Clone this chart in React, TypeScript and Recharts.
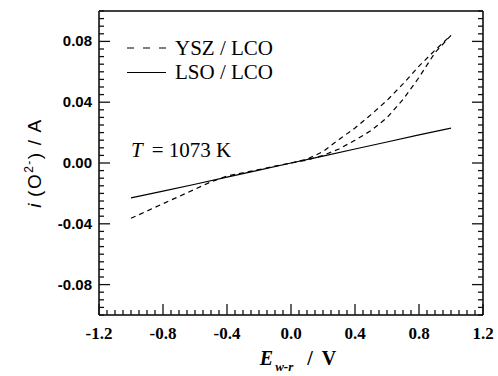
import React from 'react';
import { LineChart, Line, XAxis, YAxis, Legend } from 'recharts';

// YSZ / LCO: sweep -1 V -> +1 V (lower branch), then back to 0 V (upper branch)
const yszV = [-1.0, -0.9, -0.8, -0.7, -0.6, -0.5, -0.4, -0.3, -0.2, -0.1, 0.0, 0.1, 0.2, 0.3, 0.4, 0.5, 0.6, 0.7, 0.8, 0.9, 1.0,
  0.9, 0.8, 0.7, 0.6, 0.5, 0.4, 0.3, 0.2, 0.1, 0.0];
const yszI = [-0.0364, -0.0316, -0.0268, -0.0220, -0.0172, -0.0124, -0.0086, -0.0064, -0.0043, -0.0021, 0.0, 0.0019, 0.0050, 0.0092, 0.0150, 0.0213, 0.0298, 0.0418, 0.0563, 0.0726, 0.0840,
  0.0742, 0.0637, 0.0520, 0.0412, 0.0318, 0.0230, 0.0155, 0.0075, 0.0025, 0.0];

// LSO / LCO
const lsoV = [-1.0, -0.8, -0.6, -0.4, -0.2, 0.0, 0.2, 0.4, 0.6, 0.8, 1.0];
const lsoI = [-0.0230, -0.0185, -0.0140, -0.0093, -0.0047, 0.0, 0.0045, 0.0092, 0.0138, 0.0185, 0.0230];

const xMajor = [-1.2, -0.8, -0.4, 0, 0.4, 0.8, 1.2];
const xLabels = ['-1.2', '-0.8', '-0.4', '0.0', '0.4', '0.8', '1.2'];
const yMajor = [-0.08, -0.04, 0, 0.04, 0.08];
const yLabels = ['-0.08', '-0.04', '0.00', '0.04', '0.08'];

// minor tick positions (0.05 V and 0.005 A steps)
const xTicks = Array.from({ length: 49 }, (_, k) => Math.round((-1.2 + k * 0.05) * 100) / 100);
const yTicks = Array.from({ length: 41 }, (_, k) => Math.round((-0.1 + k * 0.005) * 1000) / 1000);

const ysz = yszV.map((v, k) => ({ v, i: yszI[k] }));
const lso = lsoV.map((v, k) => ({ v, i: lsoI[k] }));

const majorIndex = (list: number[], val: number) => list.findIndex(m => Math.abs(m - val) < 1e-6);

const serif = '"Liberation Serif", "Times New Roman", serif';
const sans = '"Liberation Sans", Arial, sans-serif';
const ink = '#111';

const BottomTick = (props: any) => {
  const { x, y, payload } = props;
  const idx = majorIndex(xMajor, payload.value);
  const len = idx >= 0 ? 11 : 5;
  return (
    <g>
      <line x1={x} y1={y} x2={x} y2={y - len} stroke={ink} strokeWidth={1.3} />
      {idx >= 0 && (
        <text x={x} y={y + 24} textAnchor="middle" fontFamily={serif} fontWeight="bold" fontSize={17} fill="#000">
          {xLabels[idx]}
        </text>
      )}
    </g>
  );
};

const TopTick = (props: any) => {
  const { x, y, payload } = props;
  const len = majorIndex(xMajor, payload.value) >= 0 ? 11 : 5;
  return <line x1={x} y1={y} x2={x} y2={y + len} stroke={ink} strokeWidth={1.3} />;
};

const LeftTick = (props: any) => {
  const { x, y, payload } = props;
  const idx = majorIndex(yMajor, payload.value);
  const len = idx >= 0 ? 11 : 5;
  return (
    <g>
      <line x1={x} y1={y} x2={x + len} y2={y} stroke={ink} strokeWidth={1.3} />
      {idx >= 0 && (
        <text x={x - 7} y={y + 5} textAnchor="end" fontFamily={sans} fontWeight="bold" fontSize={15} fill="#000">
          {yLabels[idx]}
        </text>
      )}
    </g>
  );
};

const RightTick = (props: any) => {
  const { x, y, payload } = props;
  const len = majorIndex(yMajor, payload.value) >= 0 ? 11 : 5;
  return <line x1={x} y1={y} x2={x - len} y2={y} stroke={ink} strokeWidth={1.3} />;
};

const XTitle = (props: any) => {
  const { viewBox } = props;
  const cx = viewBox.x + viewBox.width / 2 + 7;
  return (
    <text x={cx} y={365} textAnchor="middle" fontFamily={serif} fontWeight="bold" fontSize={20} fill="#000">
      <tspan fontStyle="italic">E</tspan>
      <tspan fontStyle="italic" fontSize={13} dx={2} dy={6}>w-r</tspan>
      <tspan dx={14} dy={-6}>/</tspan>
      <tspan dx={9}>V</tspan>
    </text>
  );
};

const YTitle = () => (
  <text x={0} y={0} transform="translate(41,163) rotate(-90)" textAnchor="middle" fontFamily={sans} fontSize={19} letterSpacing={1.5} fill="#000">
    <tspan fontStyle="italic">i</tspan>
    <tspan dx={5}>(O</tspan>
    <tspan fontSize={12} dy={-8}>2-</tspan>
    <tspan dy={8}>)</tspan>
    <tspan dx={6}>/</tspan>
    <tspan dx={6}>A</tspan>
  </text>
);

const LegendBox = () => (
  <svg width={170} height={60}>
    <line x1={7} y1={18} x2={46} y2={18} stroke="#000" strokeWidth={1.2} strokeDasharray="7 9" />
    <text x={55} y={24.5} fontFamily={serif} fontSize={21} fill="#000">YSZ / LCO</text>
    <line x1={7} y1={42.5} x2={46} y2={42.5} stroke="#000" strokeWidth={1.2} />
    <text x={55} y={48.5} fontFamily={serif} fontSize={21} fill="#000">LSO / LCO</text>
  </svg>
);

export default function App() {
  return (
    <div style={{ position: 'absolute', left: 0, top: 0, width: 498, height: 376, background: '#fff' }}>
      <LineChart width={498} height={376} margin={{ top: 10, right: 14, bottom: 0, left: 0 }}>
        <XAxis dataKey="v" type="number" domain={[-1.2, 1.2]} ticks={xTicks} interval={0} height={61} tickSize={0} tickMargin={0} tickLine={false} tick={<BottomTick />} axisLine={{ stroke: '#000', strokeWidth: 1.5 }} allowDataOverflow label={<XTitle />} />
        <XAxis xAxisId="top" orientation="top" type="number" domain={[-1.2, 1.2]} ticks={xTicks} interval={0} height={1} tickSize={0} tickMargin={0} tickLine={false} tick={<TopTick />} axisLine={{ stroke: '#000', strokeWidth: 1.5 }} allowDataOverflow />
        <YAxis type="number" domain={[-0.1, 0.1]} ticks={yTicks} interval={0} width={99} tickSize={0} tickMargin={0} tickLine={false} tick={<LeftTick />} axisLine={{ stroke: '#000', strokeWidth: 1.5 }} allowDataOverflow label={<YTitle />} />
        <YAxis yAxisId="right" orientation="right" type="number" domain={[-0.1, 0.1]} ticks={yTicks} interval={0} width={1} tickSize={0} tickMargin={0} tickLine={false} tick={<RightTick />} axisLine={{ stroke: '#000', strokeWidth: 1.5 }} allowDataOverflow />
        <Legend layout="vertical" align="center" verticalAlign="middle" wrapperStyle={{ left: 120, top: 30, width: 170, height: 60 }} content={() => <LegendBox />} />
        <Line data={ysz} dataKey="i" name="YSZ / LCO" stroke="#000" strokeWidth={1.2} strokeDasharray="5 4" dot={false} activeDot={false} isAnimationActive={false} />
        <Line data={lso} dataKey="i" name="LSO / LCO" stroke="#000" strokeWidth={1.2} dot={false} activeDot={false} isAnimationActive={false} />
      </LineChart>
      <svg width={498} height={376} style={{ position: 'absolute', left: 0, top: 0, pointerEvents: 'none' }}>
        <text x={131} y={157} fontFamily={serif} fontSize={21} fill="#000">
          <tspan fontStyle="italic">T</tspan>
          <tspan dx={9}>= 1073 K</tspan>
        </text>
      </svg>
    </div>
  );
}
